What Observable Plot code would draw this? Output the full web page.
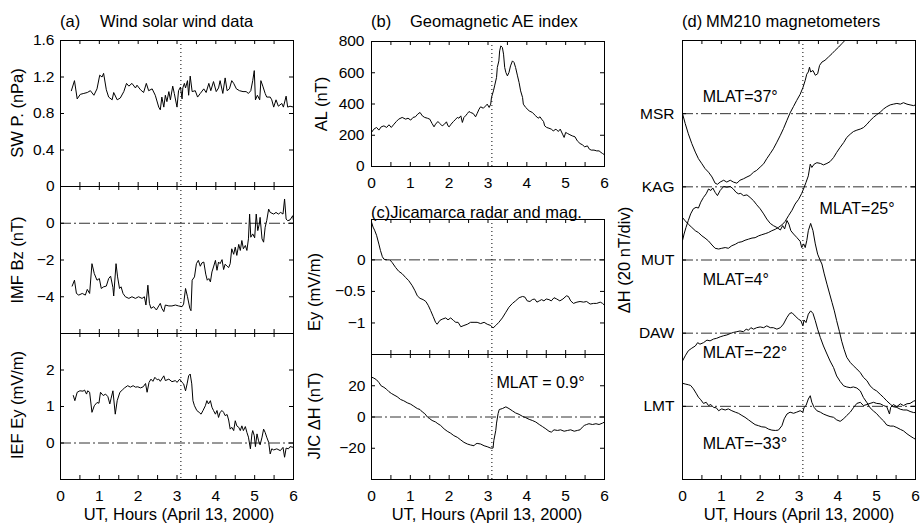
<!DOCTYPE html>
<html><head><meta charset="utf-8">
<script src="https://cdn.jsdelivr.net/npm/d3@7"></script>
<script src="https://cdn.jsdelivr.net/npm/@observablehq/plot@0.6"></script>
<style>
html,body{margin:0;padding:0;background:#fff;}
#root{position:relative;width:921px;height:526px;overflow:hidden;background:#fff;font-family:"Liberation Sans",Arial,Helvetica,sans-serif;}
#root svg{position:absolute;overflow:visible;}
</style>
</head><body><div id="root"></div>
<script>
// ---------------- DATA ----------------
const hourTicks = [0,0.5,1,1.5,2,2.5,3,3.5,4,4.5,5,5.5,6];
const hourLabels = [0,1,2,3,4,5,6];
const onsetHour = 3.1;

// (a) Wind solar wind data: [UT hour, value]
const swPressure = [[0.28,1.05],[0.36,1.16],[0.43,0.96],[0.51,1.01],[0.60,1.02],[0.69,1.03],[0.77,1.05],[0.86,1.00],[0.94,1.07],[1.01,1.22],[1.07,1.20],[1.11,1.24],[1.18,1.06],[1.24,0.98],[1.33,0.95],[1.37,1.03],[1.46,0.95],[1.54,0.97],[1.63,1.04],[1.70,1.13],[1.76,1.10],[1.84,1.13],[1.93,1.08],[1.97,1.11],[2.06,1.06],[2.14,1.03],[2.21,1.13],[2.27,1.05],[2.36,1.07],[2.44,1.00],[2.53,0.87],[2.57,0.84],[2.61,0.98],[2.66,0.87],[2.70,1.00],[2.74,0.93],[2.79,1.04],[2.83,0.95],[2.89,1.10],[2.93,1.02],[3.00,0.87],[3.04,1.05],[3.09,1.09],[3.13,0.96],[3.15,1.08],[3.19,1.13],[3.22,1.08],[3.27,1.16],[3.30,1.00],[3.34,1.21],[3.39,1.04],[3.47,1.05],[3.53,0.98],[3.60,1.02],[3.69,1.07],[3.75,1.03],[3.82,1.13],[3.87,1.05],[3.94,1.15],[4.01,1.04],[4.07,1.08],[4.11,1.16],[4.18,1.02],[4.24,1.19],[4.29,1.05],[4.35,1.07],[4.41,1.16],[4.46,1.13],[4.53,1.07],[4.61,1.05],[4.70,1.04],[4.78,1.04],[4.84,1.02],[4.90,1.05],[4.95,1.16],[4.99,1.27],[5.02,0.95],[5.07,1.00],[5.13,0.95],[5.16,1.16],[5.21,1.10],[5.27,1.02],[5.31,0.98],[5.40,0.98],[5.44,0.95],[5.49,0.87],[5.55,0.95],[5.61,0.88],[5.70,0.91],[5.74,0.87],[5.81,0.99],[5.85,0.87],[5.91,0.88],[6.00,0.87]];

const imfBz = [[0.30,-3.42],[0.36,-3.10],[0.41,-3.82],[0.47,-3.91],[0.56,-3.82],[0.64,-3.91],[0.69,-3.60],[0.75,-3.82],[0.81,-2.20],[0.87,-2.74],[0.94,-3.10],[1.00,-3.01],[1.05,-3.55],[1.11,-3.46],[1.18,-3.42],[1.24,-3.01],[1.29,-2.88],[1.35,-3.50],[1.37,-3.96],[1.43,-2.20],[1.47,-2.92],[1.52,-3.55],[1.56,-3.46],[1.61,-3.82],[1.67,-4.00],[1.76,-4.09],[1.84,-4.00],[1.93,-4.09],[2.01,-4.00],[2.10,-4.09],[2.16,-4.00],[2.20,-4.45],[2.25,-3.37],[2.29,-4.36],[2.33,-4.63],[2.40,-4.54],[2.47,-4.72],[2.53,-4.50],[2.57,-4.36],[2.61,-4.63],[2.66,-4.81],[2.70,-4.45],[2.79,-4.50],[2.87,-4.50],[2.96,-4.45],[3.04,-4.50],[3.13,-4.54],[3.17,-4.40],[3.22,-3.55],[3.27,-4.00],[3.33,-4.63],[3.36,-4.76],[3.39,-3.10],[3.45,-2.92],[3.50,-2.20],[3.55,-2.02],[3.60,-2.34],[3.64,-2.16],[3.69,-2.11],[3.74,-2.77],[3.78,-3.10],[3.82,-3.01],[3.86,-3.19],[3.90,-2.65],[3.94,-2.38],[3.99,-2.02],[4.03,-2.56],[4.07,-2.11],[4.11,-2.20],[4.16,-1.98],[4.20,-2.52],[4.24,-2.23],[4.29,-2.34],[4.33,-2.41],[4.37,-2.20],[4.41,-1.39],[4.46,-1.69],[4.50,-1.30],[4.54,-1.75],[4.59,-1.15],[4.63,-1.48],[4.67,-0.94],[4.71,-1.39],[4.76,-1.21],[4.80,-1.48],[4.84,-0.85],[4.87,0.50],[4.90,-0.76],[4.95,-0.58],[5.00,-0.79],[5.04,0.50],[5.08,-0.40],[5.12,-0.04],[5.14,0.32],[5.19,-0.85],[5.23,-1.03],[5.27,-0.22],[5.31,0.14],[5.36,0.77],[5.40,0.59],[5.49,0.50],[5.55,0.59],[5.61,0.50],[5.67,0.59],[5.73,0.50],[5.77,1.32],[5.81,0.23],[5.85,0.14],[5.91,0.18],[5.98,0.41],[6.00,0.14]];

const iefEy = [[0.33,1.30],[0.37,1.16],[0.43,1.39],[0.50,1.43],[0.58,1.42],[0.62,1.45],[0.67,1.34],[0.70,1.43],[0.75,1.39],[0.81,0.84],[0.87,1.02],[0.94,1.11],[0.99,1.09],[1.03,1.39],[1.10,1.30],[1.16,1.34],[1.22,1.27],[1.27,1.07],[1.30,1.21],[1.35,1.43],[1.41,0.79],[1.46,1.16],[1.53,1.39],[1.59,1.45],[1.65,1.51],[1.73,1.57],[1.80,1.53],[1.87,1.57],[1.93,1.53],[1.99,1.54],[2.06,1.51],[2.13,1.54],[2.19,1.63],[2.23,1.39],[2.28,1.66],[2.33,1.75],[2.38,1.69],[2.43,1.80],[2.49,1.73],[2.53,1.75],[2.57,1.69],[2.66,1.84],[2.70,1.71],[2.79,1.75],[2.87,1.68],[2.96,1.71],[3.00,1.66],[3.07,1.75],[3.13,1.66],[3.17,1.62],[3.22,1.43],[3.26,1.62],[3.30,1.84],[3.34,1.89],[3.38,1.62],[3.41,1.16],[3.45,1.02],[3.51,0.89],[3.57,0.84],[3.62,0.79],[3.67,0.89],[3.73,1.02],[3.77,1.16],[3.81,1.07],[3.86,1.16],[3.90,0.98],[3.94,0.89],[3.99,0.79],[4.03,0.89],[4.07,0.70],[4.11,0.84],[4.16,0.89],[4.20,0.84],[4.24,0.75],[4.29,0.78],[4.33,0.63],[4.37,0.38],[4.41,0.43],[4.46,0.34],[4.50,0.61],[4.54,0.47],[4.59,0.43],[4.63,0.34],[4.67,0.47],[4.71,0.34],[4.76,0.45],[4.80,0.29],[4.84,0.16],[4.89,-0.16],[4.93,0.25],[4.95,0.34],[4.99,0.20],[5.02,-0.10],[5.06,0.25],[5.10,0.06],[5.14,-0.05],[5.19,0.16],[5.23,0.38],[5.27,0.29],[5.31,0.16],[5.36,0.02],[5.40,-0.30],[5.44,-0.16],[5.49,-0.19],[5.57,-0.16],[5.66,-0.21],[5.73,-0.12],[5.77,-0.39],[5.81,-0.14],[5.87,-0.16],[5.91,-0.10],[6.00,-0.12]];

// (b) Geomagnetic AE index (AL, nT)
const alIndex = [[0.00,218],[0.06,239],[0.13,250],[0.19,233],[0.25,254],[0.32,260],[0.39,250],[0.45,267],[0.51,250],[0.58,271],[0.64,288],[0.70,303],[0.79,314],[0.88,303],[0.94,309],[1.01,297],[1.07,314],[1.13,318],[1.19,335],[1.25,346],[1.31,324],[1.37,314],[1.44,309],[1.50,303],[1.56,275],[1.61,254],[1.65,271],[1.71,288],[1.76,275],[1.82,260],[1.88,271],[1.93,286],[1.97,260],[2.00,254],[2.05,271],[2.11,288],[2.17,303],[2.21,314],[2.25,309],[2.30,324],[2.34,282],[2.38,314],[2.42,324],[2.47,339],[2.51,352],[2.55,346],[2.62,339],[2.68,318],[2.72,339],[2.77,367],[2.81,382],[2.88,373],[2.94,388],[2.98,399],[3.03,378],[3.07,399],[3.09,442],[3.14,484],[3.17,516],[3.22,570],[3.24,634],[3.28,676],[3.30,740],[3.33,772],[3.37,762],[3.40,719],[3.43,634],[3.46,602],[3.50,580],[3.54,602],[3.58,644],[3.63,676],[3.67,666],[3.71,634],[3.76,580],[3.80,538],[3.84,484],[3.89,442],[3.91,399],[3.97,378],[4.06,356],[4.14,346],[4.23,324],[4.29,309],[4.34,318],[4.38,303],[4.43,288],[4.46,260],[4.51,250],[4.57,245],[4.63,239],[4.68,228],[4.75,239],[4.81,224],[4.86,239],[4.92,207],[4.96,186],[5.00,218],[5.05,211],[5.11,203],[5.17,196],[5.24,190],[5.30,164],[5.37,147],[5.43,139],[5.49,126],[5.56,132],[5.61,111],[5.66,105],[5.73,105],[5.80,100],[5.86,100],[5.91,90],[5.95,83],[6.00,75]];

// (c) Jicamarca radar Ey (mV/m) and JIC ΔH (nT)
const jroEy = [[0.00,0.60],[0.04,0.52],[0.08,0.47],[0.13,0.39],[0.19,0.25],[0.23,0.15],[0.28,0.05],[0.32,0.01],[0.40,0.00],[0.47,0.00],[0.53,-0.04],[0.62,-0.12],[0.70,-0.18],[0.79,-0.22],[0.88,-0.28],[0.96,-0.33],[1.05,-0.41],[1.12,-0.49],[1.18,-0.57],[1.25,-0.61],[1.33,-0.63],[1.40,-0.66],[1.46,-0.72],[1.52,-0.80],[1.59,-0.90],[1.65,-0.99],[1.69,-1.02],[1.76,-0.96],[1.82,-0.94],[1.91,-0.92],[1.97,-0.95],[2.04,-0.92],[2.11,-0.96],[2.17,-0.99],[2.23,-0.99],[2.30,-1.06],[2.38,-1.04],[2.47,-1.02],[2.55,-0.99],[2.64,-0.99],[2.72,-0.99],[2.81,-1.01],[2.90,-0.99],[2.98,-1.02],[3.07,-1.04],[3.13,-1.08],[3.20,-1.04],[3.28,-0.99],[3.37,-0.92],[3.46,-0.83],[3.54,-0.75],[3.63,-0.69],[3.71,-0.65],[3.80,-0.60],[3.89,-0.58],[3.95,-0.59],[4.01,-0.65],[4.08,-0.66],[4.14,-0.63],[4.20,-0.62],[4.26,-0.67],[4.32,-0.65],[4.38,-0.63],[4.44,-0.65],[4.50,-0.62],[4.57,-0.63],[4.63,-0.65],[4.70,-0.60],[4.77,-0.62],[4.85,-0.65],[4.93,-0.62],[5.02,-0.57],[5.07,-0.58],[5.13,-0.65],[5.20,-0.69],[5.29,-0.67],[5.37,-0.66],[5.46,-0.67],[5.54,-0.66],[5.63,-0.70],[5.72,-0.69],[5.80,-0.69],[5.89,-0.67],[5.95,-0.69],[6.00,-0.72]];

const jicDH = [[0.00,25.5],[0.06,24.9],[0.13,23.8],[0.19,22.1],[0.25,19.9],[0.32,19.0],[0.39,17.7],[0.45,16.2],[0.51,15.1],[0.58,14.1],[0.66,13.0],[0.75,11.2],[0.83,10.4],[0.92,9.1],[1.01,8.2],[1.09,6.9],[1.18,5.4],[1.25,4.8],[1.31,3.2],[1.37,2.2],[1.44,0.0],[1.50,-1.1],[1.56,-2.2],[1.65,-3.2],[1.71,-4.3],[1.78,-5.4],[1.87,-7.6],[1.95,-9.1],[2.04,-10.4],[2.12,-11.9],[2.21,-13.0],[2.30,-14.7],[2.38,-16.2],[2.47,-17.3],[2.55,-17.9],[2.64,-18.4],[2.68,-17.3],[2.72,-16.9],[2.81,-17.3],[2.90,-18.4],[2.98,-19.0],[3.07,-19.9],[3.13,-19.9],[3.15,-15.1],[3.20,-8.6],[3.22,-3.9],[3.26,2.2],[3.29,4.8],[3.37,5.4],[3.46,6.5],[3.54,5.4],[3.63,3.9],[3.71,2.6],[3.80,1.7],[3.89,0.4],[3.97,-0.4],[4.06,-1.5],[4.14,-2.2],[4.23,-3.2],[4.32,-4.8],[4.40,-6.1],[4.49,-7.6],[4.57,-9.1],[4.63,-9.7],[4.70,-8.2],[4.79,-8.6],[4.87,-8.2],[4.96,-9.1],[5.05,-8.6],[5.13,-8.2],[5.22,-9.1],[5.30,-8.6],[5.37,-8.2],[5.43,-6.5],[5.48,-5.4],[5.54,-4.8],[5.60,-4.3],[5.69,-4.8],[5.78,-4.3],[5.86,-4.8],[5.95,-3.9],[6.00,-3.2]];

// (d) MM210 magnetometers: ΔH (nT) relative to each station's baseline
const stations = ["LMT","DAW","MUT","KAG","MSR"];
const stationOffsets = [0,20,40,60,80];   // 20 nT per division
const stationMlat = ["MLAT=\u221233\u00b0","MLAT=\u221222\u00b0","MLAT=4\u00b0","MLAT=25\u00b0","MLAT=37\u00b0"];

const msrDH = [[0,0],[0.07,-2.7],[0.15,-5.5],[0.24,-8.2],[0.33,-10.5],[0.41,-12.3],[0.50,-13.7],[0.58,-15.0],[0.67,-16.0],[0.76,-17.3],[0.84,-19.0],[0.90,-19.3],[0.97,-18.7],[1.06,-18.2],[1.14,-18.7],[1.23,-18.2],[1.31,-18.7],[1.40,-19.0],[1.48,-18.2],[1.57,-17.8],[1.66,-17.3],[1.74,-16.9],[1.83,-16.0],[1.91,-15.5],[2.00,-14.6],[2.09,-13.7],[2.17,-12.3],[2.26,-10.9],[2.34,-9.6],[2.43,-7.8],[2.52,-5.9],[2.60,-4.1],[2.69,-1.8],[2.77,0.2],[2.86,2.0],[2.94,3.6],[3.03,5.3],[3.10,7.1],[3.16,9.1],[3.20,10.8],[3.24,11.4],[3.27,12.7],[3.30,11.4],[3.36,11.8],[3.42,10.5],[3.48,10.9],[3.53,13.2],[3.59,14.1],[3.67,14.6],[3.76,15.5],[3.85,16.4],[3.93,17.3],[4.02,18.2],[4.10,19.1],[4.19,20.1],[4.26,21.0]];

const kagDH = [[0,-8.4],[0.07,-9.3],[0.15,-10.2],[0.24,-11.1],[0.33,-12.0],[0.41,-12.5],[0.50,-13.4],[0.58,-14.0],[0.67,-14.8],[0.76,-15.9],[0.84,-16.8],[0.93,-17.0],[1.01,-16.8],[1.10,-16.6],[1.18,-16.8],[1.27,-16.1],[1.36,-15.7],[1.44,-15.2],[1.53,-15.0],[1.61,-14.6],[1.70,-14.3],[1.79,-14.0],[1.87,-13.9],[1.96,-13.4],[2.04,-13.1],[2.13,-12.8],[2.21,-12.5],[2.30,-12.0],[2.39,-11.6],[2.47,-11.1],[2.56,-10.4],[2.64,-9.5],[2.73,-7.9],[2.82,-6.4],[2.90,-4.7],[2.99,-3.4],[3.07,-1.8],[3.13,-0.2],[3.18,1.2],[3.24,3.0],[3.29,6.2],[3.33,5.3],[3.39,6.2],[3.46,6.6],[3.55,6.4],[3.63,6.0],[3.72,6.4],[3.80,6.9],[3.89,8.0],[3.97,9.4],[4.06,10.8],[4.15,12.1],[4.23,13.5],[4.32,14.4],[4.40,15.1],[4.49,15.5],[4.58,15.8],[4.66,16.2],[4.75,17.1],[4.83,18.1],[4.92,19.0],[5.00,19.7],[5.09,20.4],[5.18,21.3],[5.26,21.9],[5.35,22.4],[5.43,22.6],[5.52,22.8],[5.61,22.6],[5.69,23.0],[5.78,22.6],[5.86,22.4],[5.95,22.2],[6.00,22.4]];

const mutDH = [[0,5.3],[0.04,7.1],[0.09,8.9],[0.15,10.8],[0.21,12.6],[0.28,14.0],[0.35,14.4],[0.41,14.2],[0.47,15.8],[0.54,17.1],[0.61,18.1],[0.67,19.4],[0.73,19.0],[0.78,19.7],[0.84,18.5],[0.90,17.6],[0.97,19.0],[1.06,20.1],[1.14,19.9],[1.23,20.1],[1.31,19.4],[1.38,18.5],[1.44,18.1],[1.50,18.2],[1.57,17.6],[1.66,17.8],[1.74,17.1],[1.83,16.2],[1.91,15.1],[2.00,14.0],[2.09,12.6],[2.17,11.2],[2.26,10.0],[2.34,9.4],[2.43,8.9],[2.52,8.2],[2.58,9.4],[2.63,8.5],[2.69,10.8],[2.74,9.8],[2.79,8.0],[2.86,7.1],[2.94,6.2],[3.03,5.1],[3.07,3.4],[3.12,4.4],[3.16,3.4],[3.20,5.3],[3.24,8.0],[3.30,10.0],[3.36,8.0],[3.42,4.4],[3.48,1.6],[3.55,-0.2],[3.59,-1.1],[3.65,-3.8],[3.72,-6.6],[3.79,-9.3],[3.85,-11.6],[3.91,-13.9],[3.97,-16.6],[4.04,-19.5],[4.10,-22.2],[4.16,-24.4],[4.23,-26.6],[4.32,-28.0],[4.40,-28.9],[4.49,-29.8],[4.58,-30.8],[4.66,-32.1],[4.75,-33.0],[4.83,-34.4],[4.92,-35.3],[5.00,-35.8],[5.09,-36.7],[5.18,-37.6],[5.26,-38.5],[5.35,-39.4],[5.43,-40.1],[5.52,-40.3],[5.61,-40.8],[5.69,-41.0],[5.78,-41.0],[5.86,-41.4],[5.95,-41.7],[6.00,-41.7]];

const dawDH = [[0,-7.6],[0.07,-6.2],[0.15,-4.8],[0.24,-4.1],[0.33,-3.5],[0.39,-2.6],[0.45,-3.0],[0.54,-2.6],[0.63,-1.9],[0.71,-2.1],[0.80,-1.6],[0.88,-1.4],[0.97,-1.0],[1.06,-0.7],[1.14,-0.5],[1.23,-0.1],[1.31,0.2],[1.40,0.4],[1.48,0.6],[1.57,0.4],[1.64,1.1],[1.70,0.8],[1.76,1.5],[1.83,1.1],[1.91,1.5],[2.00,1.7],[2.09,1.5],[2.17,2.0],[2.26,1.5],[2.34,1.5],[2.43,1.1],[2.52,1.5],[2.60,2.5],[2.69,4.3],[2.76,5.4],[2.82,5.6],[2.90,4.7],[2.99,3.8],[3.05,3.4],[3.10,2.0],[3.13,3.6],[3.18,2.9],[3.24,5.2],[3.30,6.1],[3.36,5.4],[3.42,3.4],[3.48,1.1],[3.55,-1.2],[3.63,-3.5],[3.72,-5.7],[3.80,-7.6],[3.89,-9.4],[3.97,-11.7],[4.06,-13.2],[4.15,-14.4],[4.23,-14.7],[4.32,-14.9],[4.40,-14.7],[4.49,-15.0],[4.58,-15.8],[4.66,-17.6],[4.75,-19.0],[4.83,-20.4],[4.92,-21.3],[5.00,-22.0],[5.09,-23.1],[5.18,-24.0],[5.26,-25.1],[5.35,-25.4],[5.43,-25.4],[5.52,-25.8],[5.61,-26.3],[5.69,-26.7],[5.78,-27.5],[5.86,-28.1],[5.95,-28.7],[6.00,-29.0]];

const lmtDH = [[0,6.3],[0.07,6.1],[0.15,5.9],[0.21,5.7],[0.28,4.8],[0.35,3.6],[0.41,2.5],[0.47,1.8],[0.54,0.8],[0.61,1.1],[0.67,0.2],[0.73,0.5],[0.80,-0.3],[0.87,-0.4],[0.93,-1.2],[1.01,-0.7],[1.10,-1.0],[1.18,-0.7],[1.27,-1.2],[1.36,-1.6],[1.44,-1.9],[1.53,-2.5],[1.61,-3.0],[1.70,-3.7],[1.79,-4.4],[1.87,-5.0],[1.96,-5.3],[2.04,-5.6],[2.13,-5.7],[2.21,-6.2],[2.30,-6.5],[2.39,-6.6],[2.47,-6.5],[2.56,-5.3],[2.62,-3.4],[2.69,-2.1],[2.77,-1.6],[2.86,-1.9],[2.94,-1.6],[3.03,-1.2],[3.10,-1.6],[3.13,-0.3],[3.18,0.2],[3.24,2.0],[3.29,2.9],[3.33,1.1],[3.39,-0.3],[3.46,-1.2],[3.55,-1.6],[3.63,-2.1],[3.72,-2.5],[3.80,-2.8],[3.89,-3.0],[3.97,-3.7],[4.06,-4.1],[4.15,-3.4],[4.23,-2.5],[4.32,-1.6],[4.40,-0.4],[4.49,0.8],[4.58,1.1],[4.66,0.2],[4.75,0.5],[4.83,0.8],[4.92,1.1],[5.00,0.8],[5.09,0.7],[5.18,0.2],[5.26,-0.1],[5.33,-2.1],[5.36,-0.3],[5.43,0.5],[5.52,-0.1],[5.61,0.7],[5.69,0.2],[5.78,0.7],[5.86,0.8],[5.95,1.4],[6.00,1.6]];

const stationSeries = [lmtDH, dawDH, mutDH, kagDH, msrDH];
// annotation anchor points (UT hour, stacked ΔH) for station latitude labels
const mlatNotes = [
  {hour:0.52, level:-10.2, text:stationMlat[0]},
  {hour:0.52, level:14.7,  text:stationMlat[1]},
  {hour:0.52, level:34.7,  text:stationMlat[2]},
  {hour:3.53, level:54.1,  text:stationMlat[3]},
  {hour:0.52, level:84.5,  text:stationMlat[4]}
];
const jicNote = [{hour:3.22, level:21.7, text:"MLAT = 0.9\u00b0"}];

// ---------------- DRAWING ----------------
const FONT = '"Liberation Sans", Arial, Helvetica, sans-serif';
const root = document.getElementById("root");
const minus = d => (d < 0 ? "\u2212" + String(Math.abs(d)) : String(d));

function panel(o) {
  const ML = 70, MR = 12, MT = 12, MB = 34;
  const W = o.x1 - o.x0, H = o.y1 - o.y0;
  const marks = [];
  if (o.zero) marks.push(Plot.ruleY(o.zero, {y: d => d, stroke: "#333", strokeWidth: 1, strokeDasharray: "11,3,2,3"}));
  marks.push(Plot.ruleX([onsetHour], {x: d => d, stroke: "#000", strokeWidth: 1, strokeDasharray: "1,3"}));
  for (const s of o.series) {
    marks.push(Plot.line(s.data, {x: d => d[0], y: d => d[1] + (s.offset || 0), stroke: "#000", strokeWidth: 1, clip: true}));
  }
  marks.push(Plot.tickY(o.tickMarks, {y: d => d, insetRight: W - 4, stroke: "#000"}));
  marks.push(Plot.tickY(o.tickMarks, {y: d => d, insetLeft: W - 4, stroke: "#000"}));
  marks.push(Plot.tickX(hourTicks, {x: d => d, insetTop: H - 4, stroke: "#000"}));
  marks.push(Plot.tickX(hourTicks, {x: d => d, insetBottom: H - 4, stroke: "#000"}));
  marks.push(Plot.axisY(o.labelTicks, {tickSize: 0, tickPadding: o.pad ?? 6, tickFormat: o.fmt || minus, label: null, fontSize: o.tickFont || 15.5}));
  if (o.xLabels) marks.push(Plot.axisX(hourLabels, {tickSize: 0, tickPadding: 10, tickFormat: d => String(d), label: null, fontSize: 15.5}));
  if (o.notes) marks.push(Plot.text(o.notes, {x: "hour", y: "level", text: "text", textAnchor: "start", fontSize: 16, fill: "#000"}));
  marks.push(Plot.frame({stroke: "#000", strokeWidth: 1}));
  const p = Plot.plot({
    width: W + ML + MR, height: H + MT + MB,
    marginLeft: ML, marginRight: MR, marginTop: MT, marginBottom: MB,
    x: {domain: [0, 6], axis: o.xLabels ? undefined : null},
    y: {domain: o.yDomain},
    style: {background: "transparent", fontFamily: FONT, fontSize: "15.5px", color: "#000", overflow: "visible"},
    marks
  });
  p.style.position = "absolute";
  p.style.left = (o.x0 - ML) + "px";
  p.style.top = (o.y0 - MT) + "px";
  p.style.maxWidth = "none";
  root.appendChild(p);
}

// (a)
panel({x0: 60, x1: 293, y0: 40, y1: 186, yDomain: [0, 1.6], series: [{data: swPressure}],
  tickMarks: [0.4, 0.8, 1.2], labelTicks: [0, 0.4, 0.8, 1.2, 1.6]});
panel({x0: 60, x1: 293, y0: 186, y1: 333, yDomain: [-6, 2], series: [{data: imfBz}], zero: [0],
  tickMarks: [-4, -2, 0], labelTicks: [-4, -2, 0]});
panel({x0: 60, x1: 293, y0: 333, y1: 479, yDomain: [-1, 3], series: [{data: iefEy}], zero: [0],
  tickMarks: [0, 1, 2], labelTicks: [0, 1, 2], xLabels: true});
// (b)
panel({x0: 371, x1: 604, y0: 41, y1: 166, yDomain: [0, 800], series: [{data: alIndex}],
  tickMarks: [200, 400, 600], labelTicks: [0, 200, 400, 600, 800], xLabels: true, pad: 7});
// (c)
panel({x0: 371, x1: 604, y0: 219, y1: 354, yDomain: [-1.5, 0.64], series: [{data: jroEy}], zero: [0],
  tickMarks: [-1, -0.5, 0], labelTicks: [-1, -0.5, 0]});
panel({x0: 371, x1: 604, y0: 354, y1: 479, yDomain: [-40, 40], series: [{data: jicDH}], zero: [0],
  tickMarks: [-20, 0, 20], labelTicks: [-20, 0, 20], xLabels: true, notes: jicNote});
// (d)
panel({x0: 682, x1: 915, y0: 40, y1: 479, yDomain: [-20, 100],
  series: stationSeries.map((s, i) => ({data: s, offset: stationOffsets[i]})),
  zero: stationOffsets, tickMarks: stationOffsets, labelTicks: stationOffsets,
  fmt: d => stations[stationOffsets.indexOf(d)], pad: 8, tickFont: 15.5, xLabels: true, notes: mlatNotes});

// titles and axis labels
const ov = d3.select(root).append("svg").attr("width", 921).attr("height", 526)
  .style("left", "0px").style("top", "0px").style("pointer-events", "none")
  .attr("font-family", FONT).attr("font-size", 16.5).attr("fill", "#000");
const titles = [
  {x: 60, y: 27, t: "(a)"}, {x: 100, y: 27, t: "Wind solar wind data"},
  {x: 371, y: 27, t: "(b)"}, {x: 410, y: 27, t: "Geomagnetic AE index"},
  {x: 371, y: 218, t: "(c)Jicamarca radar and mag."},
  {x: 682, y: 27, t: "(d)"}, {x: 706, y: 27, t: "MM210 magnetometers"}
];
ov.selectAll("text.t").data(titles).join("text").attr("class", "t")
  .attr("x", d => d.x).attr("y", d => d.y).text(d => d.t);
const xTitles = [179, 487, 799];
ov.selectAll("text.xt").data(xTitles).join("text").attr("class", "xt")
  .attr("x", d => d).attr("y", 520).attr("text-anchor", "middle").text("UT, Hours (April 13, 2000)");
const yTitles = [
  {x: 17, y: 113, t: "SW P. (nPa)"}, {x: 17, y: 260, t: "IMF Bz (nT)"}, {x: 17, y: 405, t: "IEF Ey (mV/m)"},
  {x: 321, y: 104, t: "AL (nT)"}, {x: 314, y: 292, t: "Ey (mV/m)"}, {x: 314, y: 416, t: "JIC \u0394H (nT)"},
  {x: 624, y: 260, t: "\u0394H (20 nT/div)"}
];
ov.selectAll("text.yt").data(yTitles).join("text").attr("class", "yt")
  .attr("transform", d => `translate(${d.x},${d.y}) rotate(-90)`)
  .attr("text-anchor", "middle").attr("dy", "0.35em").text(d => d.t);
</script>
</body></html>
